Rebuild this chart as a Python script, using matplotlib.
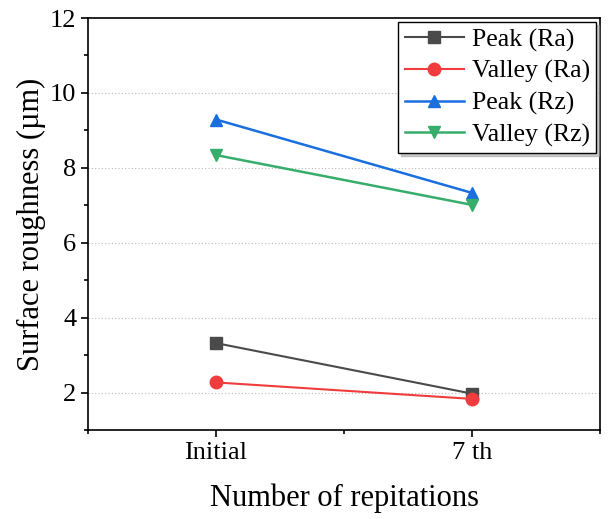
import numpy as np
import matplotlib.pyplot as plt

plt.rcParams['font.family'] = ['Liberation Serif', 'DejaVu Serif']
plt.rcParams['mathtext.fontset'] = 'stix'

# Datos
etapas = ['Initial', '7 th']
peak_ra = [3.32, 1.97]
valley_ra = [2.27, 1.83]
peak_rz = [9.29, 7.33]
valley_rz = [8.34, 7.01]

xs = np.arange(1, len(etapas) + 1)

fig = plt.figure(figsize=(6.08, 5.19), dpi=100)
ax = fig.add_axes([0.1447, 0.1715, 0.8423, 0.7938])

ax.plot(xs, peak_ra, color='#4a4a4a', marker='s', ms=8, lw=1.5, label='Peak (Ra)')
ax.plot(xs, valley_ra, color='#f03c3c', marker='o', ms=9, lw=1.5, label='Valley (Ra)')
ax.plot(xs, peak_rz, color='#1a6fdf', marker='^', ms=9, lw=1.8, label='Peak (Rz)')
ax.plot(xs, valley_rz, color='#37ad6b', marker='v', ms=9, lw=1.8, label='Valley (Rz)')

ax.set_xlim(0.5, 2.5)
ax.set_ylim(1, 12)
ax.set_xticks(xs)
ax.set_xticklabels(etapas)
ax.set_xticks([0.5, 1.5, 2.5], minor=True)
ax.set_yticks([2, 4, 6, 8, 10, 12])
ax.set_yticks([1, 3, 5, 7, 9, 11], minor=True)
ax.tick_params(axis='both', which='major', direction='out', length=5, width=1.2, labelsize=19)
ax.tick_params(axis='both', which='minor', direction='out', length=3, width=1.2)
for lado in ax.spines.values():
    lado.set_linewidth(1.2)

for v in [2, 4, 6, 8, 10]:
    ax.axhline(v, color='#b8b8b8', lw=0.8, ls=(0, (1, 2)), zorder=0)

ax.set_xlabel('Number of repitations', fontsize=22, labelpad=14)
ax.set_ylabel('Surface roughness (µm)', fontsize=22, labelpad=3)

leg = ax.legend(loc='upper right', fontsize=18.5, frameon=True, fancybox=False,
                edgecolor='black', shadow={'color': '#999999', 'alpha': 0.5},
                borderaxespad=0.15, handlelength=2.3, handletextpad=0.3,
                labelspacing=0.32, borderpad=0.25)
leg.get_frame().set_linewidth(1.0)

fig.savefig('out.png', dpi=100)
